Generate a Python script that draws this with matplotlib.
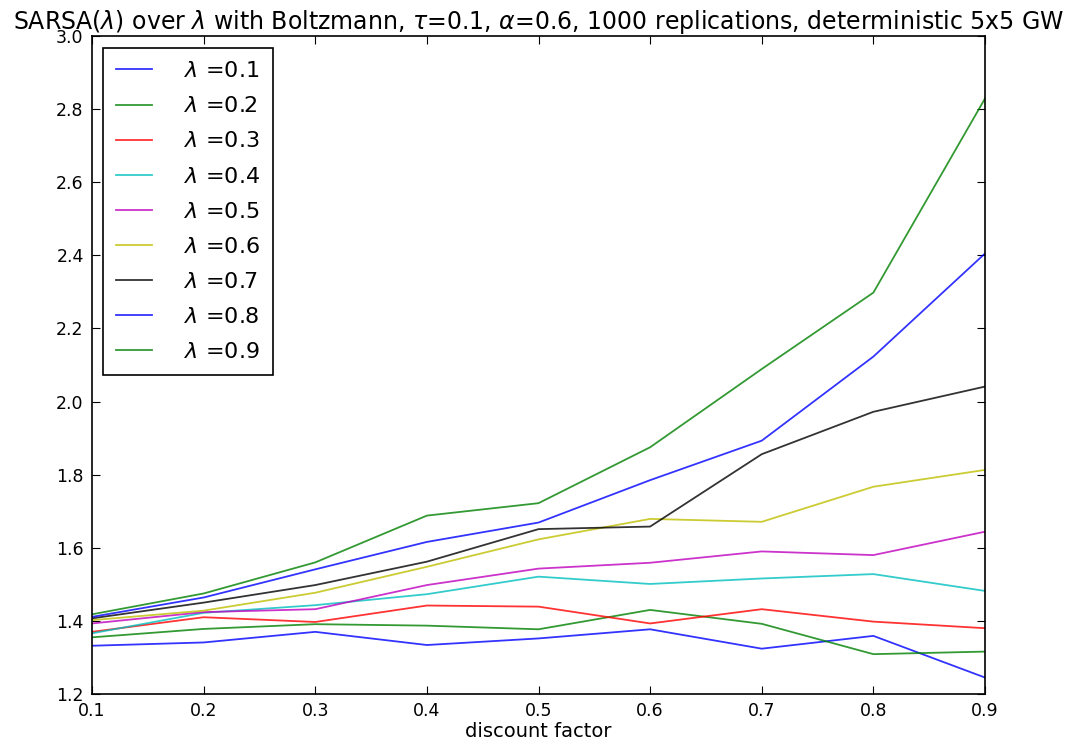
import matplotlib
matplotlib.use("Agg")
import matplotlib.pyplot as plt

# discount factors on the x axis
gammas = [0.1, 0.2, 0.3, 0.4, 0.5, 0.6, 0.7, 0.8, 0.9]
lambdas = [0.1, 0.2, 0.3, 0.4, 0.5, 0.6, 0.7, 0.8, 0.9]

# one series per lambda
lam01 = [1.332, 1.341, 1.370, 1.334, 1.352, 1.377, 1.324, 1.359, 1.245]
lam02 = [1.355, 1.378, 1.391, 1.387, 1.377, 1.430, 1.392, 1.309, 1.316]
lam03 = [1.370, 1.410, 1.397, 1.442, 1.439, 1.393, 1.432, 1.398, 1.380]
lam04 = [1.366, 1.422, 1.443, 1.473, 1.521, 1.501, 1.516, 1.528, 1.482]
lam05 = [1.393, 1.424, 1.432, 1.498, 1.543, 1.559, 1.590, 1.580, 1.644]
lam06 = [1.402, 1.428, 1.477, 1.548, 1.623, 1.679, 1.671, 1.767, 1.813]
lam07 = [1.407, 1.450, 1.498, 1.562, 1.651, 1.658, 1.856, 1.972, 2.041]
lam08 = [1.411, 1.464, 1.541, 1.616, 1.669, 1.785, 1.893, 2.123, 2.405]
lam09 = [1.418, 1.475, 1.560, 1.688, 1.722, 1.875, 2.089, 2.298, 2.829]
series = [lam01, lam02, lam03, lam04, lam05, lam06, lam07, lam08, lam09]

# classic matplotlib colour cycle
colors = ['#0000ff', '#008000', '#ff0000', '#00bfbf', '#bf00bf', '#bfbf00', '#000000', '#0000ff', '#008000']

fig = plt.figure(figsize=(10.74, 7.46), dpi=100)
ax = fig.add_axes([92 / 1074, 1 - 694 / 746, (985 - 92) / 1074, (694 - 36) / 746])

for lam, ys, c in zip(lambdas, series, colors):
    ax.plot(gammas, ys, color=c, lw=1.3, alpha=0.8, label=r'$\lambda$ =%.1f' % lam)

ax.set_xlim(0.1, 0.9)
ax.set_ylim(1.2, 3.0)
ax.set_xticks(gammas)
ax.set_yticks([1.2, 1.4, 1.6, 1.8, 2.0, 2.2, 2.4, 2.6, 2.8, 3.0])
ax.tick_params(direction='in', top=True, right=True, length=6, width=0.8,
               pad=6, labelsize=12.5)
for s in ax.spines.values():
    s.set_linewidth(1.2)

ax.set_xlabel('discount factor', fontsize=14, labelpad=1)
ax.set_title(r'SARSA($\lambda$) over $\lambda$ with Boltzmann, $\tau$=0.1, $\alpha$=0.6, 1000 replications, deterministic 5x5 GW',
             fontsize=17, pad=5)

leg = ax.legend(loc='upper left', fontsize=16, handlelength=1.6, handletextpad=1.45,
                labelspacing=0.68, borderpad=0.6, borderaxespad=0, fancybox=False,
                framealpha=1, bbox_to_anchor=(0.0123, 0.982))
leg.get_frame().set_edgecolor('black')
leg.get_frame().set_linewidth(1.2)

fig.savefig('out.png', dpi=100)
